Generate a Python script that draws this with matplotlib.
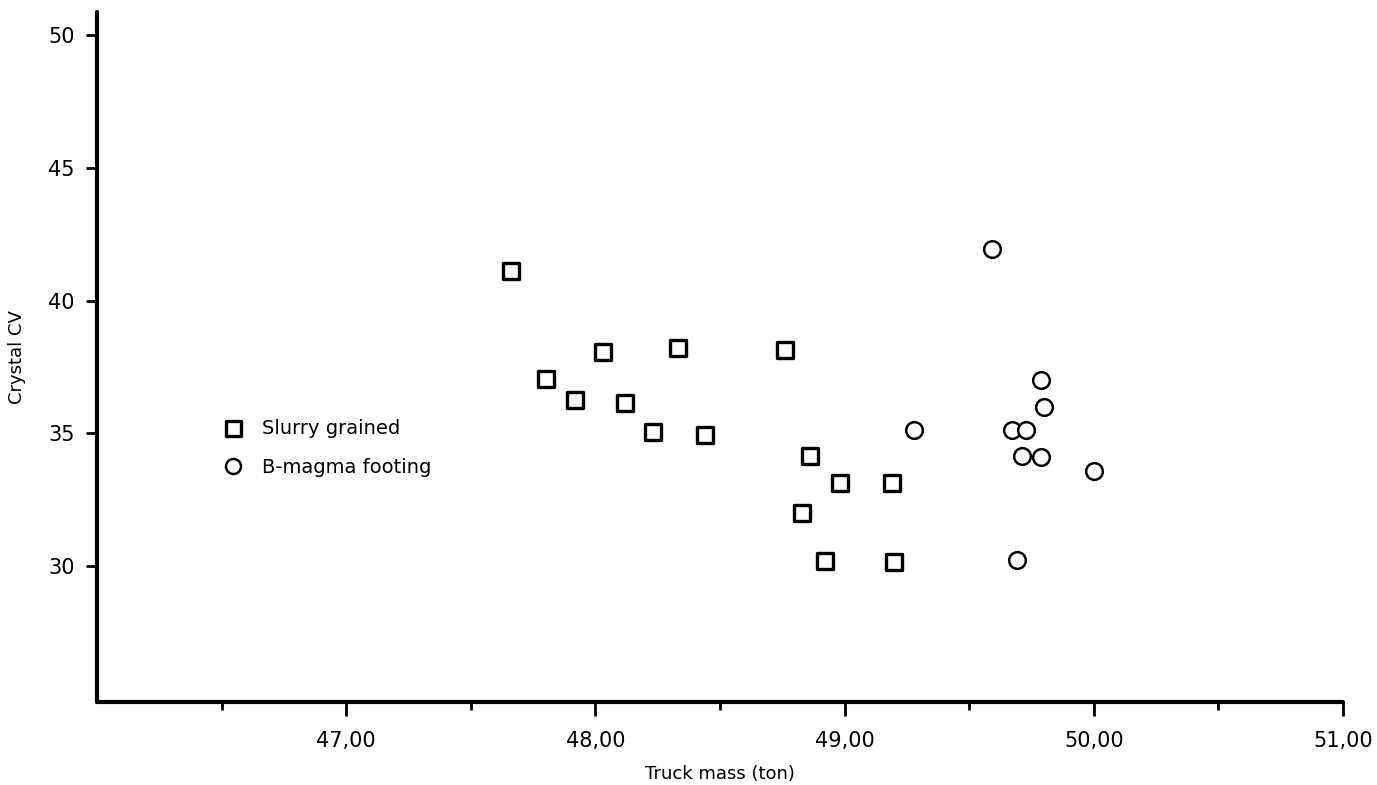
import numpy as np
import matplotlib
matplotlib.use("Agg")
import matplotlib.pyplot as plt
from matplotlib.markers import MarkerStyle
from matplotlib.ticker import FixedLocator, FuncFormatter

plt.rcParams['font.family'] = ['DejaVu Sans']

# Slurry grained (squares)
slurry_mass = [47.66, 47.80, 47.92, 48.03, 48.12, 48.23, 48.33, 48.44,
               48.76, 48.86, 48.98, 49.19, 48.83, 48.92, 49.20]
slurry_cv = [41.13, 37.06, 36.26, 38.08, 36.15, 35.06, 38.23, 34.94,
             38.15, 34.15, 33.13, 33.13, 32.00, 30.19, 30.15]

# B-magma footing (circles)
magma_mass = [49.59, 49.28, 49.79, 49.80, 49.67, 49.73, 49.71, 49.79, 50.00, 49.69]
magma_cv = [41.96, 35.13, 37.02, 36.00, 35.13, 35.13, 34.15, 34.11, 33.60, 30.23]

x_major = [47, 48, 49, 50, 51]
x_minor = [46.5, 47.5, 48.5, 49.5, 50.5]
y_major = [30, 35, 40, 45, 50]

fig = plt.figure(figsize=(13.77, 7.85), dpi=100)
ax = fig.add_axes([0.0704, 0.1057, 0.9049, 0.879])

sq = MarkerStyle('s', joinstyle='round')
ax.plot(slurry_mass, slurry_cv, linestyle='none', marker=sq, markersize=12,
        markerfacecolor='white', markeredgecolor='black', markeredgewidth=2.4,
        label='Slurry grained')
ax.plot(magma_mass, magma_cv, linestyle='none', marker='o', markersize=12,
        markerfacecolor='white', markeredgecolor='black', markeredgewidth=1.8,
        label='B-magma footing')

ax.set_xlim(46, 51)
ax.set_ylim(24.88, 50.87)

for s in ['top', 'right']:
    ax.spines[s].set_visible(False)
for s in ['left', 'bottom']:
    ax.spines[s].set_linewidth(3)
    ax.spines[s].set_capstyle('round')

ax.xaxis.set_major_locator(FixedLocator(x_major))
ax.xaxis.set_minor_locator(FixedLocator(x_minor))
ax.xaxis.set_major_formatter(FuncFormatter(lambda v, p: f"{v:.2f}".replace('.', ',')))
ax.yaxis.set_major_locator(FixedLocator(y_major))
ax.tick_params(axis='x', which='major', length=10, width=2, direction='out',
               labelsize=15, pad=11)
ax.tick_params(axis='x', which='minor', length=6, width=2, direction='out')
ax.tick_params(axis='y', which='major', length=8, width=2, direction='out',
               labelsize=15, pad=8)

ax.set_xlabel("Truck mass (ton)", fontsize=13, labelpad=10)
ax.set_ylabel("Crystal CV", fontsize=13, labelpad=16)

ax.legend(loc='upper left', bbox_to_anchor=(0.155, 0.478), bbox_transform=fig.transFigure,
          frameon=False, fontsize=14, handlelength=1.0, handletextpad=1.0,
          labelspacing=1.0, borderpad=0, markerscale=0.9)

fig.savefig("out.png", dpi=100)
